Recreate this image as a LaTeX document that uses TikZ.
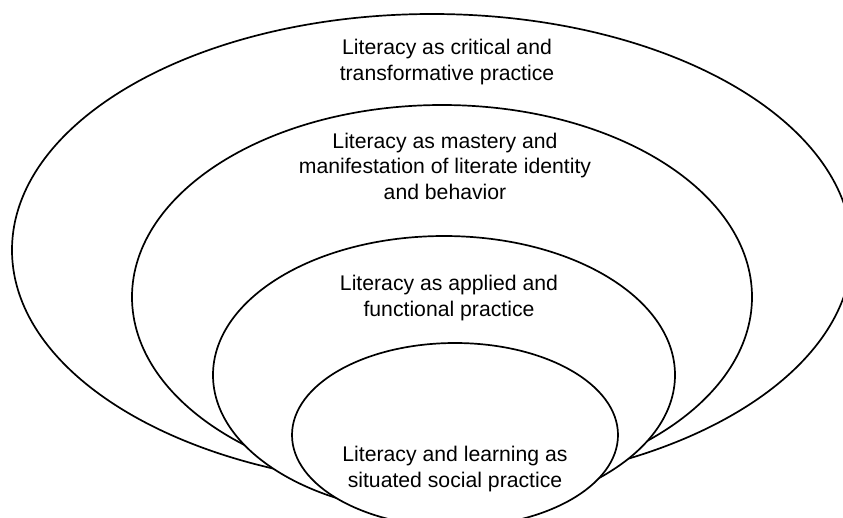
\documentclass[tikz,border=0pt]{standalone}
\usepackage{fontspec}
\setmainfont{Liberation Sans}
\usetikzlibrary{shapes.geometric}

\begin{document}
\begin{tikzpicture}[x=1pt, y=-1pt,
    ring/.style={draw, ellipse, fill=white, line width=1.7pt, inner sep=0pt},
    ringtext/.style={align=center, inner sep=0pt, font=\fontsize{21.2}{25.5}\selectfont}]
    \useasboundingbox (0,0) rectangle (843,517);
    \clip (0,0) rectangle (843,517);
    % nested rings, outermost first
    \node[ring, minimum width=840pt, minimum height=472pt] (critical) at (432,250) {};
    \node[ring, minimum width=620pt, minimum height=384pt] (mastery) at (442,297) {};
    \node[ring, minimum width=462pt, minimum height=278pt] (applied) at (444,375) {};
    \node[ring, minimum width=326pt, minimum height=184pt] (situated) at (455,435) {};
    % texts
    \node[ringtext] (criticaltext) at (447,62) {Literacy as critical and\\transformative practice};
    \node[ringtext] (masterytext) at (445,166) {Literacy as mastery and\\manifestation of literate identity\\and behavior};
    \node[ringtext] (appliedtext) at (449,298) {Literacy as applied and\\functional practice};
    \node[ringtext] (situatedtext) at (455,469) {Literacy and learning as\\situated social practice};
\end{tikzpicture}
\end{document}
